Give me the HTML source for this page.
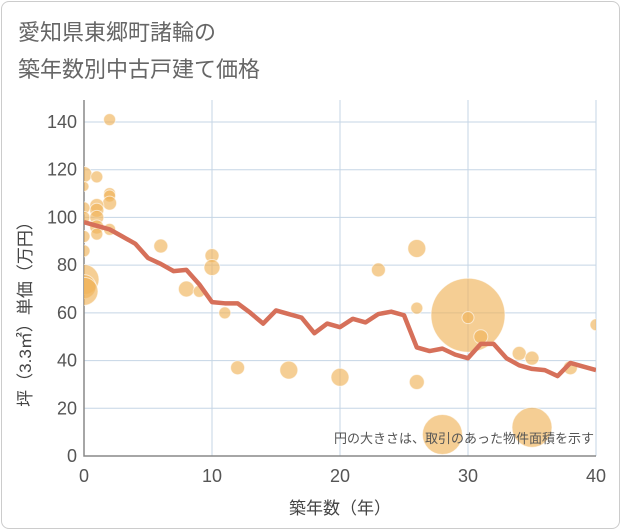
<!DOCTYPE html>
<html><head><meta charset="utf-8"><style>
body{margin:0;background:#fff;}
#wrap{position:relative;width:621px;height:530px;font-family:"Liberation Sans","Noto Sans CJK JP",sans-serif;}
#frame{position:absolute;left:1px;top:1px;width:617px;height:526px;border:1px solid #ccc;border-radius:8px;}
</style></head><body>
<div id="wrap">
<div id="frame"></div>
<svg id="chart" width="621" height="530" style="position:absolute;left:0;top:0">
<text x="18" y="40" font-size="22" fill="#666">愛知県東郷町諸輪の</text>
<text x="18" y="77" font-size="22" fill="#666">築年数別中古戸建て価格</text>
</svg>
</div>
<script>
const xTicks=[0,10,20,30,40];
const yTicks=[0,20,40,60,80,100,120,140];
const lineYears=[0,1,2,3,4,5,6,7,8,9,10,11,12,13,14,15,16,17,18,19,20,21,22,23,24,25,26,27,28,29,30,31,32,33,34,35,36,37,38,39,40];
const lineValues=[98,96.5,95,92,89,83,80.5,77.5,78,72,64.5,64,64,60,55.5,61,59.5,58,51.5,55.5,54,57.5,56,59.5,60.5,59,45.5,44,45,42.5,41,47,47,41,38,36.5,36,33.5,39,37.5,36];
const bubbleX=[2,0,1,0,2,2,2,1,1,0,0,1,1,1,2,0,0,0,0,0,6,8,9,10,10,11,12,16,20,23,26,26,26,28,30,30,31,34,35,35,38,40];
const bubbleY=[141,118,117,113,110,109,106,105,103,104,100,100,96,93,95,92,86,74,71,69,88,70,69,84,79,60,37,36,33,78,87,62,31,9,59,58,50,43,41,12,37,55];
const bubbleR=[6,8,6,5,6,6,7,7,7,6,6,7,7,6,6,6,6,15,12,14,7,8,6,7,8,6,7,9,9,7,9,6,7.5,20,37,6,7,7,7,20,7,6];
const svg=document.getElementById('chart');const NS='http://www.w3.org/2000/svg';
const X0=84,X1=596,Y0=456,Y1=122;
const sx=v=>X0+(X1-X0)*v/40, sy=v=>Y0-(Y0-Y1)*v/140;
function mk(t,a,p){const e=document.createElementNS(NS,t);for(const k in a)e.setAttribute(k,a[k]);(p||svg).appendChild(e);return e;}
const clip=mk('clipPath',{id:'pc'});mk('rect',{x:X0,y:100,width:X1-X0,height:Y0-100},clip);
xTicks.forEach(v=>{const l=mk('line',{x1:sx(v),x2:sx(v),y1:100,y2:Y0,stroke:'#c5d5e5','stroke-width':1});

const t=mk('text',{x:sx(v),y:482,'font-size':18,fill:'#555','text-anchor':'middle'});t.textContent=v;
});
yTicks.forEach(v=>{const l=mk('line',{x1:X0,x2:X1,y1:sy(v),y2:sy(v),stroke:'#c5d5e5','stroke-width':1});

const t=mk('text',{x:77,y:sy(v)+6,'font-size':18,fill:'#555','text-anchor':'end'});t.textContent=v;
});
const ax=mk('path',{d:`M${X0} 100V${Y0}H${X1}`,stroke:'#888',fill:'none','stroke-width':1.5});

const g=mk('g',{'clip-path':'url(#pc)'});
bubbleX.forEach((x,i)=>{const c=mk('circle',{cx:sx(x),cy:sy(bubbleY[i]),r:bubbleR[i],fill:'rgba(240,180,90,0.65)',stroke:'rgba(255,255,255,0.6)','stroke-width':1},g);
});
const p=mk('polyline',{points:lineYears.map((x,i)=>sx(x)+','+sy(lineValues[i])).join(' '),fill:'none',stroke:'#d6705a','stroke-width':4.5,'stroke-linejoin':'round'},g);

const n=mk('text',{x:594,y:443,'font-size':13,fill:'#555','text-anchor':'end'});n.textContent='円の大きさは、取引のあった物件面積を示す';

const xt=mk('text',{x:340,y:514,'font-size':17,fill:'#444','text-anchor':'middle'});xt.textContent='築年数（年）';

const yt=mk('text',{x:0,y:0,'font-size':17,fill:'#444','text-anchor':'middle',transform:'translate(31,310) rotate(-90)'});yt.textContent='坪（3.3㎡）単価（万円）';

</script>
</body></html>
